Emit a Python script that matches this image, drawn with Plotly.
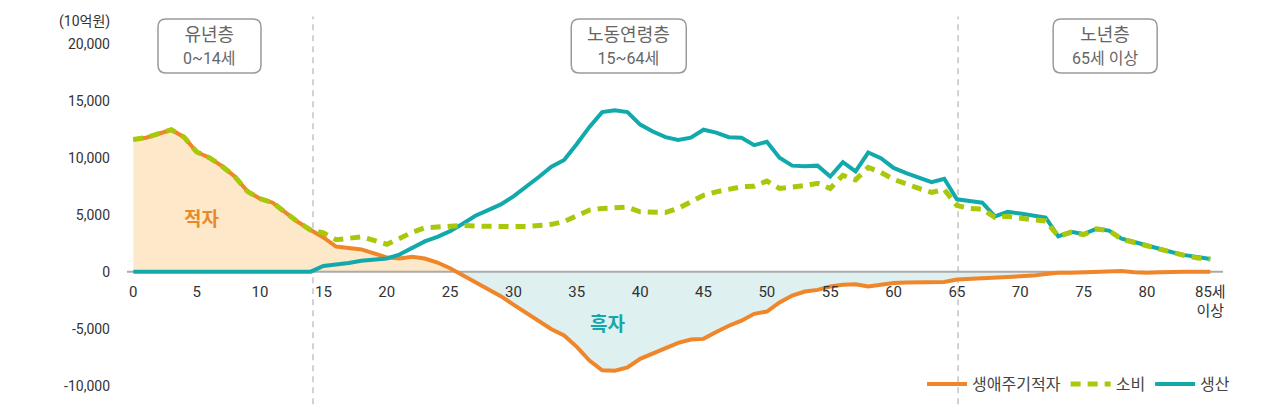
import plotly.graph_objects as go

ages = list(range(86))

consumption = [11600, 11750, 12100, 12450, 11800, 10500, 10000, 9250, 8350, 7050,
               6400, 6050, 5200, 4350, 3650, 3400, 2800, 2900, 3050, 2750,
               2400, 2900, 3450, 3850, 3950, 4000, 4050, 4000, 3950, 3950,
               3950, 3950, 4050, 4150, 4400, 4900, 5400, 5550, 5600, 5650,
               5250, 5200, 5200, 5550, 6100, 6700, 7000, 7250, 7450, 7500,
               7950, 7300, 7400, 7550, 7750, 7300, 8450, 8050, 9150, 8700,
               8100, 7650, 7300, 6950, 7200, 5800, 5550, 5500, 4750, 4850,
               4650, 4550, 4450, 3100, 3450, 3250, 3750, 3600, 2850, 2550,
               2250, 1900, 1650, 1400, 1200, 1100]

production = [0, 0, 0, 0, 0, 0, 0, 0, 0, 0,
              0, 0, 0, 0, 0, 500, 600, 750, 950, 1050,
              1150, 1500, 2100, 2650, 3050, 3550, 4200, 4900, 5400, 5900,
              6600, 7400, 8300, 9200, 9800, 11200, 12700, 14000, 14150, 14000,
              12900, 12300, 11800, 11550, 11750, 12450, 12200, 11800, 11750, 11100,
              11400, 10000, 9300, 9250, 9300, 8350, 9600, 8800, 10450, 9950,
              9100, 8650, 8250, 7850, 8150, 6350, 6200, 6050, 4850, 5250,
              5100, 4950, 4750, 3100, 3500, 3300, 3750, 3600, 2900, 2600,
              2300, 1950, 1700, 1450, 1250, 1100]

deficit = [11600, 11750, 12100, 12450, 11800, 10500, 10000, 9250, 8350, 7050,
           6400, 6050, 5200, 4350, 3650, 3000, 2200, 2050, 1950, 1600,
           1250, 1150, 1300, 1150, 800, 300, -300, -900, -1500, -2150,
           -2900, -3600, -4300, -5050, -5600, -6600, -7800, -8650, -8700, -8400,
           -7650, -7200, -6700, -6250, -5950, -5900, -5300, -4750, -4300, -3700,
           -3500, -2700, -2100, -1750, -1600, -1300, -1150, -1100, -1300, -1150,
           -1000, -950, -950, -900, -900, -700, -650, -600, -500, -450,
           -400, -350, -200, -100, -100, -50, 0, 0, 50, -50,
           -100, -50, 0, 0, 0, 0]

x_tick_vals = list(range(0, 86, 5))
x_tick_text = [str(v) for v in x_tick_vals[:-1]] + ["85세<br>이상"]
y_tick_vals = [20000, 15000, 10000, 5000, 0, -5000, -10000]
y_tick_text = ["20,000", "15,000", "10,000", "5,000", "0", "-5,000", "-10,000"]

series_names = ["생애주기적자", "소비", "생산"]
group_labels = [("유년층", "0~14세"), ("노동연령층", "15~64세"), ("노년층", "65세 이상")]
area_labels = ["적자", "흑자"]

ORANGE = "#f0862a"
GREEN = "#a9c70b"
TEAL = "#12a9ac"
FILL_POS = "#fde9c9"
FILL_NEG = "#dff0f0"
FONT = "Roboto, 'Noto Sans CJK KR', sans-serif"
KFONT = "'Noto Sans CJK KR', sans-serif"

X_RANGE = [-0.5, 86.0]
Y_RANGE = [-11000, 20500]

# split deficit into positive / negative parts (insert zero crossings)
dx, dy = [], []
for i, (a, v) in enumerate(zip(ages, deficit)):
    if i > 0:
        p = deficit[i - 1]
        if (p > 0 and v < 0) or (p < 0 and v > 0):
            t = p / (p - v)
            dx.append(ages[i - 1] + t * (a - ages[i - 1]))
            dy.append(0)
    dx.append(a)
    dy.append(v)
pos_y = [max(v, 0) for v in dy]
neg_y = [min(v, 0) for v in dy]

fig = go.Figure()
fig.add_trace(go.Scatter(x=dx, y=pos_y, mode="lines", line=dict(width=0),
                         fill="tozeroy", fillcolor=FILL_POS, showlegend=False, hoverinfo="skip"))
fig.add_trace(go.Scatter(x=dx, y=neg_y, mode="lines", line=dict(width=0),
                         fill="tozeroy", fillcolor=FILL_NEG, showlegend=False, hoverinfo="skip"))
# zero baseline (above the fills, below the series lines)
fig.add_trace(go.Scatter(x=X_RANGE, y=[0, 0], mode="lines", line=dict(color="#aaaaaa", width=2),
                         showlegend=False, hoverinfo="skip"))
fig.add_trace(go.Scatter(x=ages, y=deficit, mode="lines", name=series_names[0], legendrank=1,
                         line=dict(color=ORANGE, width=4)))
fig.add_trace(go.Scatter(x=ages, y=production, mode="lines", name=series_names[2], legendrank=3,
                         line=dict(color=TEAL, width=4)))
fig.add_trace(go.Scatter(x=ages, y=consumption, mode="lines", name=series_names[1], legendrank=2,
                         line=dict(color=GREEN, width=5, dash="10px,7px")))

# dashed group separators
for xv in [14.18, 65.09]:
    fig.add_shape(type="line", xref="x", yref="paper", x0=xv, x1=xv, y0=-0.02, y1=1.06,
                  line=dict(color="#b5b5b5", width=1.2, dash="6px,5px"), layer="below")

# rounded group boxes
def rrect(w, h, r):
    a, b = w / 2, h / 2
    return (f"M {-a + r},{-b} L {a - r},{-b} Q {a},{-b} {a},{-b + r} "
            f"L {a},{b - r} Q {a},{b} {a - r},{b} L {-a + r},{b} Q {-a},{b} {-a},{b - r} "
            f"L {-a},{-b + r} Q {-a},{-b} {-a + r},{-b} Z")

box_x = [6.01, 39.1, 76.7]
box_w = [103, 115, 104]
box_y = 0.9777
for (t1, t2), bx, bw in zip(group_labels, box_x, box_w):
    fig.add_shape(type="path", xref="x", yref="paper", xsizemode="pixel", ysizemode="pixel",
                  xanchor=bx, yanchor=box_y, path=rrect(bw, 54, 8),
                  line=dict(color="#9a9a9a", width=1.5), fillcolor="white", layer="above")
    fig.add_annotation(x=bx, y=box_y, xref="x", yref="paper", showarrow=False,
                       text=f"{t1}<br><span style='font-size:16px'>{t2}</span>",
                       font=dict(family=FONT, size=18, color="#666666"),
                       xanchor="center", yanchor="middle", align="center")

fig.add_annotation(x=5.34, y=4740, xref="x", yref="y", showarrow=False, text=f"<b>{area_labels[0]}</b>",
                   font=dict(family=KFONT, size=19, color="#e8892a"))
fig.add_annotation(x=37.46, y=-4470, xref="x", yref="y", showarrow=False, text=f"<b>{area_labels[1]}</b>",
                   font=dict(family=KFONT, size=19, color="#18a7a9"))
fig.add_annotation(x=-0.039, y=1.045, xref="paper", yref="paper", showarrow=False, text="(10억원)",
                   font=dict(family=FONT, size=14, color="#333333"), xanchor="center", yanchor="middle")

zero_pos = (0 - Y_RANGE[0]) / (Y_RANGE[1] - Y_RANGE[0])

fig.update_layout(
    width=1280, height=414,
    margin=dict(l=127, r=57, t=38, b=17),
    paper_bgcolor="white", plot_bgcolor="white",
    font=dict(family=FONT, color="#333333"),
    hovermode=False,
    legend=dict(orientation="h", x=1.011, xanchor="right", y=0.036, yanchor="middle",
                font=dict(family=KFONT, size=16, color="#444444"), itemwidth=40,
                bgcolor="rgba(0,0,0,0)"),
    xaxis=dict(range=X_RANGE, showgrid=False, zeroline=False, showline=False,
               anchor="free", position=zero_pos,
               tickmode="array", tickvals=x_tick_vals, ticktext=x_tick_text, ticks="",
               ticklabelstandoff=9, tickfont=dict(size=15, color="#333333")),
    yaxis=dict(range=Y_RANGE, showgrid=False, zeroline=False, showline=False,
               tickmode="array", tickvals=y_tick_vals, ticktext=y_tick_text, ticks="",
               ticklabelstandoff=16, tickfont=dict(size=14, color="#333333")),
)

fig.write_html("out.html", config={"displayModeBar": False})
